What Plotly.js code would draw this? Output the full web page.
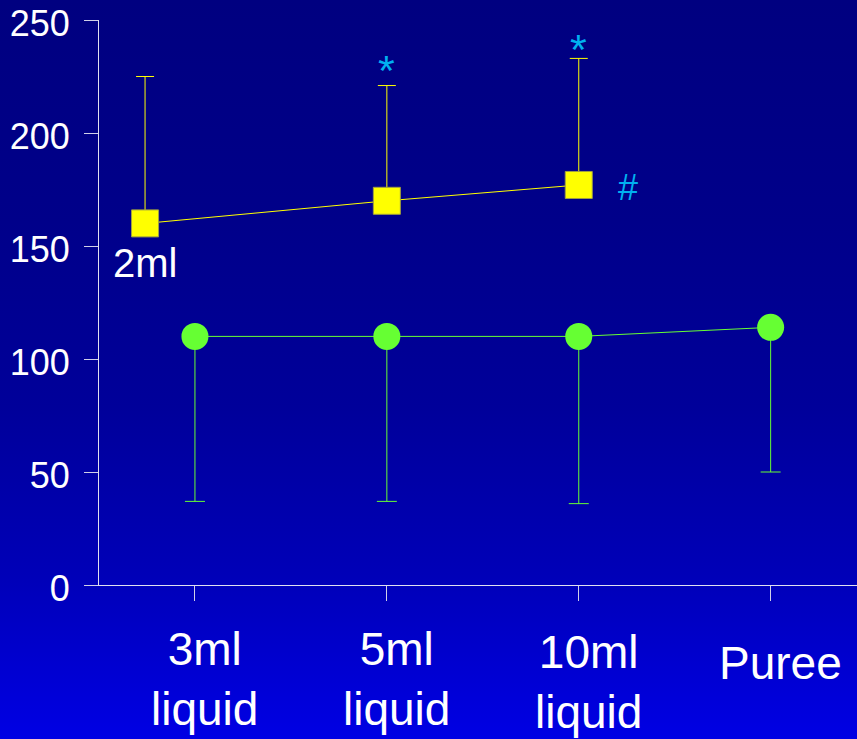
<!DOCTYPE html>
<html>
<head>
<meta charset="utf-8">
<script src="https://cdn.plot.ly/plotly-3.0.1.min.js"></script>
<style>
  html, body { margin: 0; padding: 0; }
  #chart {
    width: 857px; height: 739px;
    background: linear-gradient(to bottom, #000080 0%, #00008a 30%, #00009a 55%, #0000b8 78%, #0000e4 100%);
  }
</style>
</head>
<body>
<div id="chart"></div>
<script>
// ---- data ----
const categories = ["3ml<br>liquid", "5ml<br>liquid", "10ml<br>liquid", "Puree"];
const categoryPos = [1, 2, 3, 4];

const yellowX = [0.74, 2, 3];          // 2ml, 5ml, 10ml
const yellowMean = [160, 170, 177];
const yellowErrUp = [65, 51, 56];

const greenX = [1, 2, 3, 4];
const greenMean = [110, 110, 110, 114];
const greenErrDown = [73, 73, 74, 64];

const yTicks = [0, 50, 100, 150, 200, 250];

// marks: significance symbols
const starX = [2, 3];
const starY = [227.8, 237.0];
const hashX = [3.257];
const hashY = [175.7];

const labelFont = "Liberation Sans, Arial, sans-serif";
const cyan = "#00b0f0";

const traces = [
  {
    x: greenX, y: greenMean, type: "scatter", mode: "lines+markers",
    line: { color: "#66ff33", width: 1 },
    marker: { symbol: "circle", size: 27, color: "#66ff33" },
    error_y: {
      type: "data", symmetric: false,
      array: greenMean.map(() => 0), arrayminus: greenErrDown,
      color: "#66ff33", thickness: 1, width: 10
    },
    cliponaxis: false, hoverinfo: "skip"
  },
  {
    x: yellowX, y: yellowMean, type: "scatter", mode: "lines+markers",
    line: { color: "#ffff00", width: 1 },
    marker: { symbol: "square", size: 27, color: "#ffff00", line: { color: "#a0a040", width: 1 } },
    error_y: {
      type: "data", symmetric: false,
      array: yellowErrUp, arrayminus: yellowMean.map(() => 0),
      color: "#ffff00", thickness: 1, width: 9
    },
    cliponaxis: false, hoverinfo: "skip"
  }
];

const annotations = [];
// x category labels
const labelYShift = [0, 0, -3, -14];
categories.forEach((c, i) => {
  annotations.push({
    x: categoryPos[i], xref: "x", y: 0, yref: "paper",
    text: c, showarrow: false, xanchor: "center", yanchor: "top",
    xshift: 10, yshift: -36 + labelYShift[i],
    font: { family: labelFont, size: 46, color: "#ffffff" }
  });
});
// 2ml label
annotations.push({
  x: yellowX[0], xref: "x", y: 142.5, yref: "y",
  text: "2ml", showarrow: false, xanchor: "center", yanchor: "middle",
  font: { family: labelFont, size: 40, color: "#ffffff" }
});
starX.forEach((sx, i) => {
  annotations.push({
    x: sx, xref: "x", y: starY[i], yref: "y",
    text: "*", showarrow: false, xanchor: "center", yanchor: "middle",
    font: { family: labelFont, size: 43, color: cyan }
  });
});
hashX.forEach((hx, i) => {
  annotations.push({
    x: hx, xref: "x", y: hashY[i], yref: "y",
    text: "#", showarrow: false, xanchor: "center", yanchor: "middle",
    font: { family: labelFont, size: 36, color: cyan }
  });
});

const layout = {
  width: 857, height: 739,
  margin: { l: 99, r: 0, t: 20, b: 154 },
  paper_bgcolor: "rgba(0,0,0,0)",
  plot_bgcolor: "rgba(0,0,0,0)",
  showlegend: false,
  font: { family: labelFont, color: "#ffffff" },
  xaxis: {
    range: [0.5, 4.45], tickvals: categoryPos, showticklabels: false,
    ticks: "outside", ticklen: 15, tickcolor: "#d0d0e8", tickwidth: 1,
    showline: true, linecolor: "#e0e0f0", linewidth: 1,
    showgrid: false, zeroline: false, fixedrange: true
  },
  yaxis: {
    range: [0, 250], tickvals: yTicks, ticktext: yTicks.map(String),
    ticks: "outside", ticklen: 14, tickcolor: "#d0d0e8", tickwidth: 1,
    showline: true, linecolor: "#e0e0f0", linewidth: 1,
    showgrid: false, zeroline: false, fixedrange: true,
    ticklabelstandoff: 7, ticklabeloverflow: "allow", ticklabelshift: 3,
    tickfont: { family: labelFont, size: 36, color: "#ffffff" }
  },
  annotations: annotations
};

Plotly.newPlot("chart", traces, layout, { displayModeBar: false, staticPlot: true });
</script>
</body>
</html>
